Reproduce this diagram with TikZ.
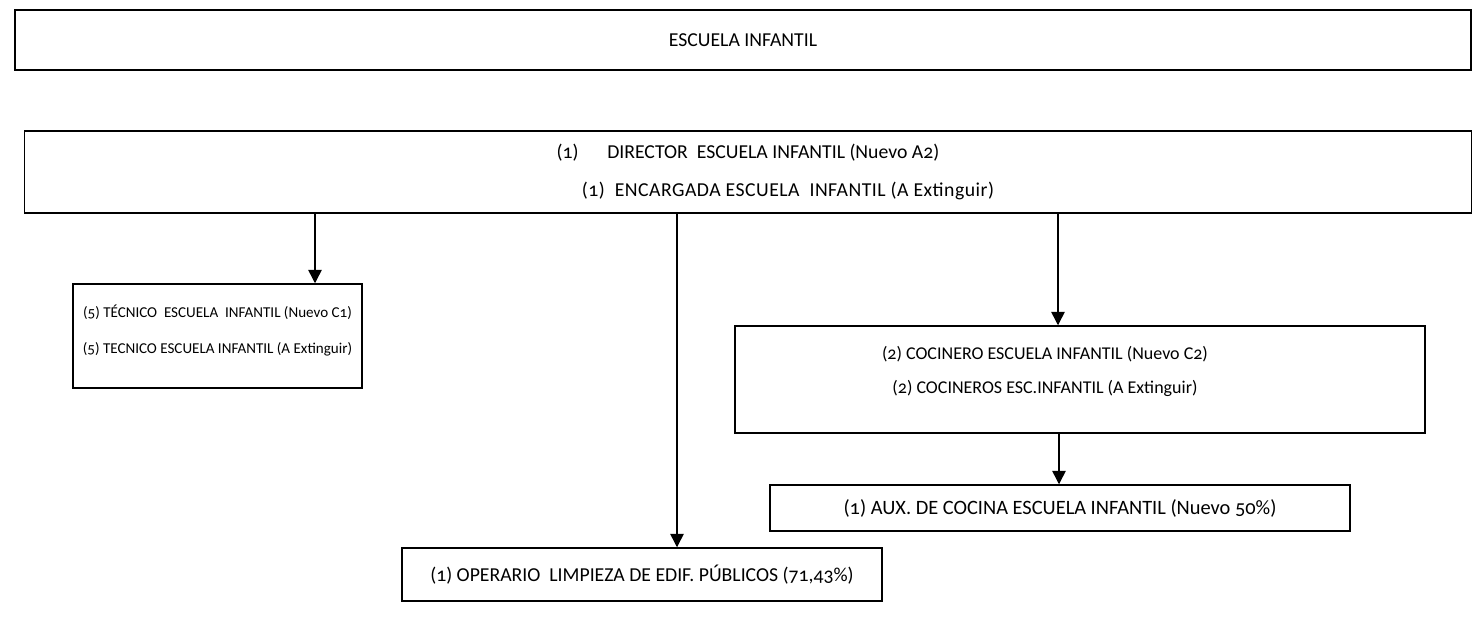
\documentclass[tikz,border=0pt]{standalone}
\usepackage{fontspec}
\setmainfont[Numbers=OldStyle]{Carlito}
\usetikzlibrary{arrows.meta}

\begin{document}
\begin{tikzpicture}[x=0.75pt,y=-0.75pt,
    caja/.style={draw,line width=1.1pt,rectangle,align=center,inner sep=0pt,font=\fontsize{14.8pt}{17.5pt}\selectfont},
    texto/.style={align=center,inner sep=0pt},
    flecha/.style={line width=1.1pt,-{Triangle[length=10pt,width=10pt]}}]
  \useasboundingbox (0,0) rectangle (1472,630);
  % cabecera
  \node[caja,minimum width=1456*0.75pt,minimum height=60*0.75pt] (escuela) at (743,40) {ESCUELA INFANTIL};
  \node[caja,minimum width=1447*0.75pt,minimum height=82*0.75pt] (direccion) at (748,172)
    {(1)\quad\ \ DIRECTOR\ \ ESCUELA INFANTIL (Nuevo A2)\\[11.5pt]
     \hspace*{60pt}{\addfontfeature{LetterSpace=2.5}(1)\ \ ENCARGADA ESCUELA\ \ INFANTIL (A Extinguir)}};
  % puestos
  \node[caja,font=\fontsize{11.3pt}{13.5pt}\selectfont,minimum width=289*0.75pt,minimum height=104*0.75pt] (tecnico) at (217.5,336)
    {(5) TÉCNICO\ \ ESCUELA\ \ INFANTIL (Nuevo C1)\\[13.5pt]
     (5) TECNICO ESCUELA INFANTIL (A Extinguir)\\[-3pt]};
  \node[caja,minimum width=690*0.75pt,minimum height=107*0.75pt] (cocinero) at (1080,379.5) {};
  \node[texto,font=\fontsize{13.5pt}{16pt}\selectfont] (cocinerotxt) at (1045,371.5)
    {(2) COCINERO ESCUELA INFANTIL (Nuevo C2)\\[10pt]
     (2) COCINEROS ESC.INFANTIL (A Extinguir)};
  \node[caja,font=\fontsize{15.3pt}{18pt}\selectfont,minimum width=580*0.75pt,minimum height=46*0.75pt] (auxcocina) at (1060,508)
    {(1) AUX. DE COCINA ESCUELA INFANTIL (Nuevo 50\%)};
  \node[caja,minimum width=480*0.75pt,minimum height=53*0.75pt] (limpieza) at (642,574.5)
    {(1) OPERARIO\ \ LIMPIEZA DE EDIF. PÚBLICOS (71,43\%)};
  % flechas
  \coordinate (x1) at (315,0);
  \coordinate (x2) at (677,0);
  \coordinate (x3) at (1058,0);
  \coordinate (x4) at (1059,0);
  \draw[flecha] (direccion.south -| x1) -- (tecnico.north -| x1);
  \draw[flecha] (direccion.south -| x2) -- (limpieza.north -| x2);
  \draw[flecha] (direccion.south -| x3) -- (cocinero.north -| x3);
  \draw[flecha] (cocinero.south -| x4) -- (auxcocina.north -| x4);
\end{tikzpicture}
\end{document}
